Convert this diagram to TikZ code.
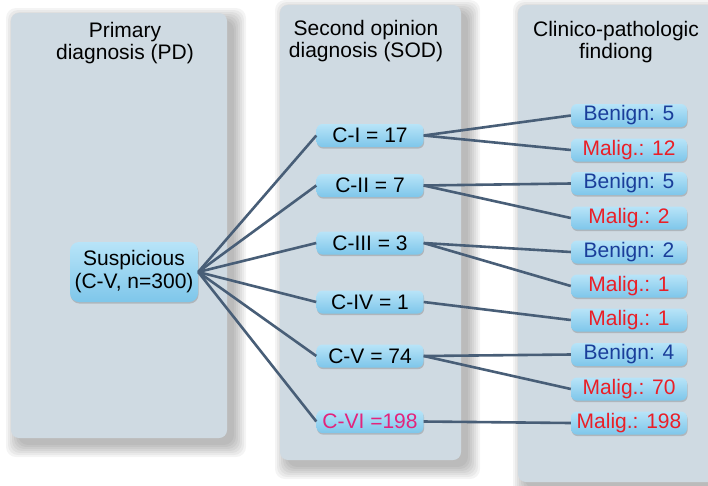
\documentclass[tikz,border=0pt]{standalone}
\usepackage{fontspec}
\setmainfont{Liberation Sans}
\usepackage{xcolor}
\usepackage{tikz}
\usetikzlibrary{shadows}
\definecolor{panelcolor}{HTML}{CFDAE2}
\definecolor{linkcolor}{HTML}{485E77}
\definecolor{boxtop}{HTML}{B8E4F8}
\definecolor{boxbottom}{HTML}{7EC6EA}
\definecolor{benign}{HTML}{1A3E9A}
\definecolor{malig}{HTML}{EA1F27}
\definecolor{sixcolor}{HTML}{E3247C}

\tikzset{
  panel/.style={fill=panelcolor, rounded corners=8pt},
  box/.style={top color=boxtop, bottom color=boxbottom, rounded corners=6pt,
    minimum height=23pt, inner sep=1pt, font=\fontsize{21}{23}\selectfont,
    drop shadow={shadow xshift=0.6pt, shadow yshift=-1.6pt, opacity=0.3, fill=black!60}},
  sodbox/.style={box, minimum width=107pt},
  cpfbox/.style={box, minimum width=116pt},
  link/.style={linkcolor, line width=2.6pt},
  paneltitle/.style={align=center, font=\fontsize{21}{22}\selectfont}
}

\begin{document}
\begin{tikzpicture}[x=1pt,y=-1pt]
  \useasboundingbox (0,0) rectangle (708,485);
  \clip (0,0) rectangle (708,485);
  % soft shadows, then the three panels
  \foreach \xa/\ya/\xb/\yb in {11/13/227/438, 280/5/461/460, 518/5/740/482}
    \foreach \e in {0,2,...,12}
      \fill[black, opacity=0.045, rounded corners=10pt] (\xa+7-\e,\ya+7-\e) rectangle (\xb+7+\e,\yb+7+\e);
  \fill[panel] (11,13) rectangle (227,438);
  \fill[panel] (280,5) rectangle (461,460);
  \fill[panel] (518,5) rectangle (740,482);

  \node[paneltitle] (pdtitle) at (125,43) {Primary\\diagnosis (PD)};
  \node[paneltitle] (sodtitle) at (366,41) {Second opinion\\diagnosis (SOD)};
  \node[paneltitle] (cpftitle) at (616,42) {Clinico-pathologic\\findiong};

  \node[box, minimum width=128pt, minimum height=60pt, align=center, rounded corners=9pt] (susp) at (134,272)
    {Suspicious\\(C-V, n=300)};

  \foreach \n/\y/\txt in {1/135.5/C-I = 17, 2/185.5/C-II = 7, 3/243/C-III = 3, 4/302/C-IV = 1, 5/356/C-V = 74}
    \node[sodbox] (sod\n) at (370,\y) {\txt};
  \node[sodbox, text=sixcolor] (sod6) at (370,421.5) {C-VI =198};

  \foreach \n/\y/\kind/\txt in {1/115.5/benign/Benign: 5, 2/150/malig/Malig.: 12,
      3/183.5/benign/Benign: 5, 4/218/malig/Malig.: 2, 5/252/benign/Benign: 2,
      6/286/malig/Malig.: 1, 7/320/malig/Malig.: 1, 8/354.5/benign/Benign: 4,
      9/389/malig/Malig.: 70, 10/423/malig/Malig.: 198}
    \node[cpfbox, text=\kind] (cpf\n) at (629,\y) {\txt};

  \foreach \n in {1,...,6}
    \draw[link] (susp.east) -- (sod\n.west);
  \foreach \a/\b in {1/1, 1/2, 2/3, 2/4, 3/5, 3/6, 4/7, 5/8, 5/9, 6/10}
    \draw[link] (sod\a.east) -- (cpf\b.west);
\end{tikzpicture}
\end{document}
